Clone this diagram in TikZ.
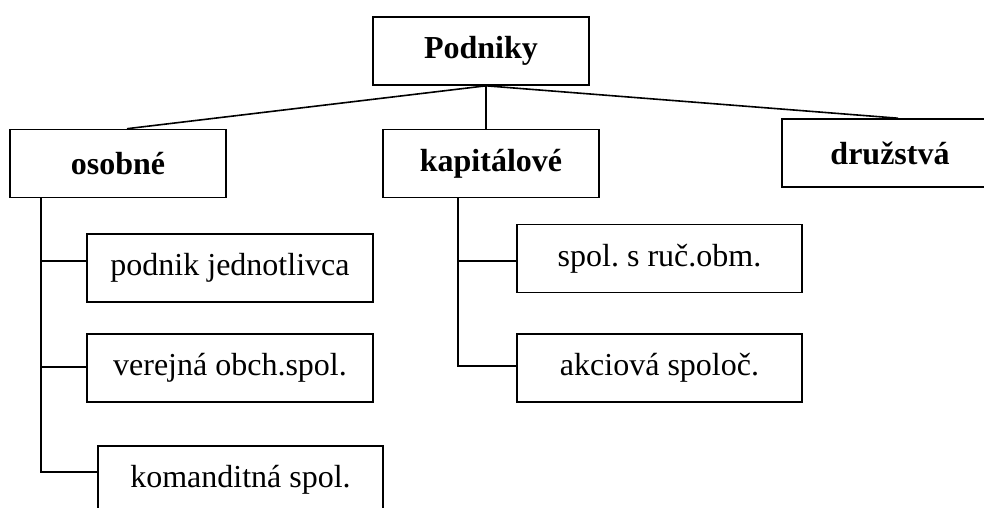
\documentclass[tikz,border=0pt]{standalone}
\usepackage{fontspec}
\setmainfont{Liberation Serif}
\frenchspacing
\begin{document}
\begin{tikzpicture}
      [x=1pt,y=-1pt,line width=1.6pt,
      box/.style={draw,line width=1.6pt,inner sep=0pt,minimum height=68pt,
        font=\fontsize{32}{38}\selectfont},
      head/.style={box,minimum width=216pt,font=\fontsize{32}{38}\selectfont\bfseries}]
      \clip (0,0) rectangle (984,507);
      \node[head] (podniky) at (481,51) {Podniky};
      \node[head] (osobne) at (118,163.5) {osobné};
      \node[head] (kapitalove) at (491,163.5) {kapitálové};
      \node[head] (druzstva) at (890,153) {družstvá};
      \node[box,minimum width=286pt] (jednotlivca) at (230,268) {podnik jednotlivca};
      \node[box,minimum width=286pt] (verejna) at (230,368) {verejná obch.spol.};
      \node[box,minimum width=285pt] (komanditna) at (240.5,480) {komanditná spol.};
      \node[box,minimum width=285pt] (sro) at (659.5,258.5) {spol. s ruč.obm.};
      \node[box,minimum width=285pt] (akciova) at (659.5,368) {akciová spoloč.};
      \coordinate (root) at ([xshift=5pt]podniky.south);
      \draw (root) -- ([xshift=9pt]osobne.north);
      \draw (root) -- (root |- kapitalove.north);
      \draw (root) -- ([xshift=8pt]druzstva.north);
      \coordinate (osobus) at ([xshift=-77pt]osobne.south);
      \coordinate (kapbus) at ([xshift=-33pt]kapitalove.south);
      \draw ([yshift=7pt]jednotlivca.west) -| (osobus);
      \draw ([yshift=1pt]verejna.west) -| (osobus);
      \draw ([yshift=8pt]komanditna.west) -| (osobus);
      \draw ([yshift=-2.5pt]sro.west) -| (kapbus);
      \draw ([yshift=2pt]akciova.west) -| (kapbus);
    \end{tikzpicture}
\end{document}
